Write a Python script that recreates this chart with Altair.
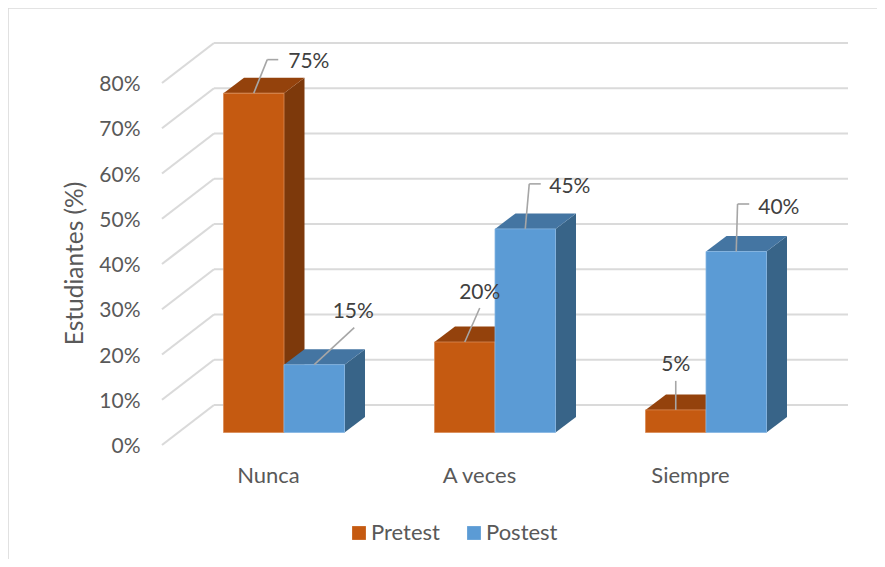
import altair as alt
import pandas as pd

# ---- values ----
categories = ["Nunca", "A veces", "Siempre"]
pretest = [75, 20, 5]
postest = [15, 45, 40]
series_names = ["Pretest", "Postest"]
ticks = [0, 10, 20, 30, 40, 50, 60, 70, 80]

# ---- look ----
FONT = "Lato"
C_FRONT = {"Pretest": "#C55A11", "Postest": "#5B9BD5"}
C_TOP = {"Pretest": "#94420C", "Postest": "#4475A2"}
C_SIDE = {"Pretest": "#7D390B", "Postest": "#386488"}
C_EDGE = {"Pretest": "#D98A55", "Postest": "#85B5E2"}
GRID = "#DADADA"
AXIS_TEXT = "#595959"
LABEL_TEXT = "#404040"

# ---- projection (screen pixels per data unit) ----
W, H = 869, 551
PX_CAT, PX_PCT = 211.0, 4.525
X0, Y0 = 276.0, 424.5          # category 0 / 0 % inside the plot area


def ux(px):
    return px / PX_CAT


def uy(px):
    return px / PX_PCT


BAR = ux(60.5)
DEPTH_X, DEPTH_Y = ux(20.5), uy(15.5)
WALL_X, WALL_Y = ux(214 - 284), uy(432.5 - 405)
FLOOR_X, FLOOR_Y = ux(162 - 284), uy(432.5 - 445)
RIGHT_X = ux(848 - 284)

x_scale = alt.Scale(domain=[-X0 / PX_CAT, (W - X0) / PX_CAT], nice=False, zero=False)
y_scale = alt.Scale(domain=[(Y0 - H) / PX_PCT, Y0 / PX_PCT], nice=False, zero=False)

# ---- tables ----
bars = []
for s, vals, lo in (("Pretest", pretest, -BAR), ("Postest", postest, 0.0)):
    for i, v in enumerate(vals):
        bars.append(dict(series=s, id=f"{s}{i}", x=i + lo, x2=i + lo + BAR, v=v, zero=0))
bars = pd.DataFrame(bars)

side_rows, top_rows = [], []
for _, b in bars.iterrows():
    side_rows += [
        dict(series=b.series, id=b.id, x=b.x2, y=0, y2=b.v),
        dict(series=b.series, id=b.id, x=b.x2 + DEPTH_X, y=DEPTH_Y, y2=b.v + DEPTH_Y),
    ]
    top_rows += [
        dict(series=b.series, id=b.id, y=b.v, x=b.x, x2=b.x2),
        dict(series=b.series, id=b.id, y=b.v + DEPTH_Y, x=b.x + DEPTH_X, x2=b.x2 + DEPTH_X),
    ]
side = pd.DataFrame(side_rows)
top = pd.DataFrame(top_rows)

grid_rows = []
for t in ticks:
    grid_rows.append(dict(x=WALL_X, x2=RIGHT_X, y=t + WALL_Y, y2=t + WALL_Y))
    grid_rows.append(dict(x=FLOOR_X, x2=WALL_X, y=t + FLOOR_Y, y2=t + WALL_Y))
grid = pd.DataFrame(grid_rows)

# leader lines: pixel offsets from the middle of each bar's top edge
#   (elbow dx, dy), (end dx, dy), label anchor (dx, dy), align
leaders = {
    "Pretest0": ((13.5, -33.5), (24.5, -33.5), (34.5, -33), "left"),
    "Postest0": ((40, -37), (40, -37), (39, -55), "center"),
    "Pretest1": ((15, -34), (15, -34), (15, -51.5), "center"),
    "Postest1": ((4, -45), (15.5, -45), (24, -44), "left"),
    "Pretest2": ((0, -29), (0, -29), (0, -47), "center"),
    "Postest2": ((1.3, -47.5), (13, -47.5), (22, -46), "left"),
}
seg_rows, text_rows = [], []
for _, b in bars.iterrows():
    cx = (b.x + b.x2) / 2
    (ex, ey), (fx, fy), (tx, ty), al = leaders[b.id]
    seg_rows.append(dict(x=cx, y=b.v, x2=cx + ux(ex), y2=b.v - uy(ey)))
    if (ex, ey) != (fx, fy):
        seg_rows.append(dict(x=cx + ux(ex), y=b.v - uy(ey), x2=cx + ux(fx), y2=b.v - uy(fy)))
    text_rows.append(dict(x=cx + ux(tx), y=b.v - uy(ty), t=f"{b.v}%", al=al))
segs = pd.DataFrame(seg_rows)
texts = pd.DataFrame(text_rows)

x_axis = alt.Axis(
    title=None, values=[0, 1, 2], grid=False, domain=False, ticks=False,
    labelExpr="['Nunca','A veces','Siempre'][datum.value]",
    labelFont=FONT, labelFontSize=22, labelColor=AXIS_TEXT,
    labelOffset=-16, labelPadding=4, offset=-98, labelOverlap=False, labelFlush=False)
y_axis = alt.Axis(
    title="Estudiantes (%)", values=ticks, grid=False, domain=False, ticks=False,
    labelExpr="datum.value + '%'",
    labelFont=FONT, labelFontSize=21, labelColor=AXIS_TEXT,
    labelOffset=14, labelPadding=0, offset=-132, labelOverlap=False, labelFlush=False,
    titleFont=FONT, titleFontSize=24.5, titleFontWeight="normal", titleColor=AXIS_TEXT,
    titleX=-65, titleY=255, titleAngle=-90, titleAlign="center", titleBaseline="middle")

X = lambda: alt.X("x:Q", scale=x_scale, axis=x_axis)
Y = lambda: alt.Y("y:Q", scale=y_scale, axis=y_axis)

color = alt.Color("series:N", scale=alt.Scale(domain=series_names, range=[C_FRONT[s] for s in series_names]),
                  legend=alt.Legend(
                      title=None, orient="none", direction="horizontal", columns=2,
                      legendX=340, legendY=514, symbolType="square", symbolSize=190,
                      symbolStrokeWidth=0, labelFont=FONT, labelFontSize=22,
                      labelColor=AXIS_TEXT, labelOffset=1, columnPadding=23))

layers = [
    alt.Chart(grid).mark_rule(color=GRID, strokeWidth=2.2).encode(x=X(), x2="x2:Q", y=Y(), y2="y2:Q"),
    # frame of the chart area (top and left edges only are visible in the picture)
    alt.Chart(pd.DataFrame({"a": [0]})).mark_rule(color=GRID, strokeWidth=1.6).encode(
        x=alt.value(0), y=alt.value(0), y2=alt.value(H)),
    alt.Chart(pd.DataFrame({"a": [0]})).mark_rule(color=GRID, strokeWidth=1.6).encode(
        x=alt.value(0), x2=alt.value(W), y=alt.value(0)),
]
for s in series_names:
    layers.append(alt.Chart(side[side.series == s]).mark_area(color=C_SIDE[s]).encode(
        x=X(), y=Y(), y2="y2:Q", detail="id:N"))
    layers.append(alt.Chart(top[top.series == s]).mark_area(color=C_TOP[s], orient="horizontal").encode(
        x=X(), x2="x2:Q", y=Y(), detail="id:N"))
    layers.append(alt.Chart(bars[bars.series == s]).mark_rect(stroke=C_EDGE[s], strokeWidth=0.8).encode(
        x=X(), x2="x2:Q",
        y=alt.Y("zero:Q", scale=y_scale, axis=y_axis), y2="v:Q",
        color=color))

layers.append(alt.Chart(segs).mark_rule(color="#A6A6A6", strokeWidth=1.6).encode(
    x=X(), x2="x2:Q", y=Y(), y2="y2:Q"))
for al in ("left", "center"):
    layers.append(alt.Chart(texts[texts.al == al]).mark_text(
        font=FONT, fontSize=21, color=LABEL_TEXT, align=al, baseline="middle", dy=2).encode(
        x=X(), y=Y(), text="t:N"))

chart = alt.layer(*layers).resolve_scale(x="shared", y="shared").properties(
    width=W, height=H, padding=0,
    autosize=alt.AutoSizeParams(type="none"),
    background="white",
).configure_view(stroke=None)

chart.save("out.html", embed_options={"renderer": "svg", "actions": False})
